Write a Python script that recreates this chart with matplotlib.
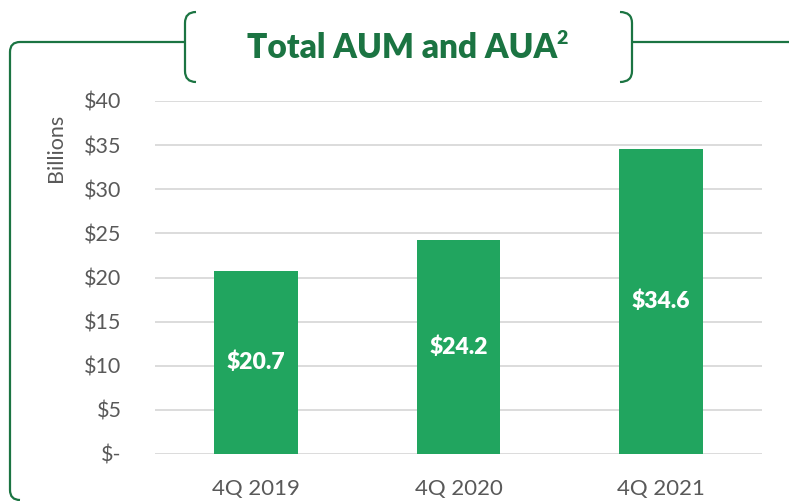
import matplotlib.pyplot as plt
from matplotlib.path import Path
from matplotlib.patches import PathPatch
import numpy as np

# values in $ billions
quarters = ['4Q 2019', '4Q 2020', '4Q 2021']
aum_aua = [20.7, 24.2, 34.6]
yticks = [0, 5, 10, 15, 20, 25, 30, 35, 40]

bar_color = '#21a55f'
frame_green = '#1b7442'
gray = '#595959'

plt.rcParams['font.family'] = ['Lato', 'DejaVu Sans']

W, H = 789, 501
fig = plt.figure(figsize=(W / 100, H / 100), dpi=100)
ax = fig.add_axes([155 / W, 47 / H, 607 / W, 353 / H])

x = np.arange(len(quarters))
ax.bar(x, aum_aua, width=0.415, color=bar_color, zorder=3)
for xi, v in zip(x, aum_aua):
    ax.text(xi, v / 2, f'${v:.1f}', ha='center', va='center', color='white',
            fontsize=16.5, fontweight='heavy', zorder=4)

ax.set_xlim(-0.5, 2.5)
ax.set_ylim(0, 40)
ax.set_yticks(yticks)
ax.set_yticklabels(['$-' if t == 0 else f'${t}' for t in yticks])
ax.set_xticks(x)
ax.set_xticklabels(quarters)
ax.tick_params(length=0, labelsize=15.5, colors=gray)
ax.tick_params(axis='y', pad=24)
ax.tick_params(axis='x', pad=18, labelsize=16)
for s in ax.spines.values():
    s.set_visible(False)
ax.grid(axis='y', color='#d9d9d9', linewidth=1.3, zorder=0)
ax.set_axisbelow(True)

fig.text(56 / W, 1 - 148 / H, 'Billions', rotation=90, ha='center', va='center',
         color=gray, fontsize=15.5)


# frame and title bracket, drawn in pixel coordinates
def P(px, py):
    return (px / W, 1 - py / H)


def draw(pts, codes):
    path = Path([P(*p) for p in pts], codes)
    fig.add_artist(PathPatch(path, fill=False, edgecolor=frame_green, linewidth=1.6,
                             transform=fig.transFigure, capstyle='butt'))


M, L, C = Path.MOVETO, Path.LINETO, Path.CURVE3
# left frame
draw([(185, 42), (20, 42), (10, 42), (10, 52), (10, 490), (10, 500), (20, 500)],
     [M, L, C, C, L, C, C])
# left bracket
draw([(196, 12), (185, 12), (185, 23), (185, 71), (185, 82), (196, 82)],
     [M, C, C, L, C, C])
# right bracket
draw([(620, 12), (632, 12), (632, 23), (632, 71), (632, 82), (620, 82)],
     [M, C, C, L, C, C])
draw([(632, 42), (789, 42)], [M, L])

fig.text(402 / W, 1 - 48 / H, 'Total AUM and AUA', ha='center', va='center',
         color=frame_green, fontsize=24, fontweight='heavy')
fig.text(556 / W, 1 - 38 / H, '2', ha='left', va='center',
         color=frame_green, fontsize=14, fontweight='heavy')

fig.savefig('out.png', dpi=100)
